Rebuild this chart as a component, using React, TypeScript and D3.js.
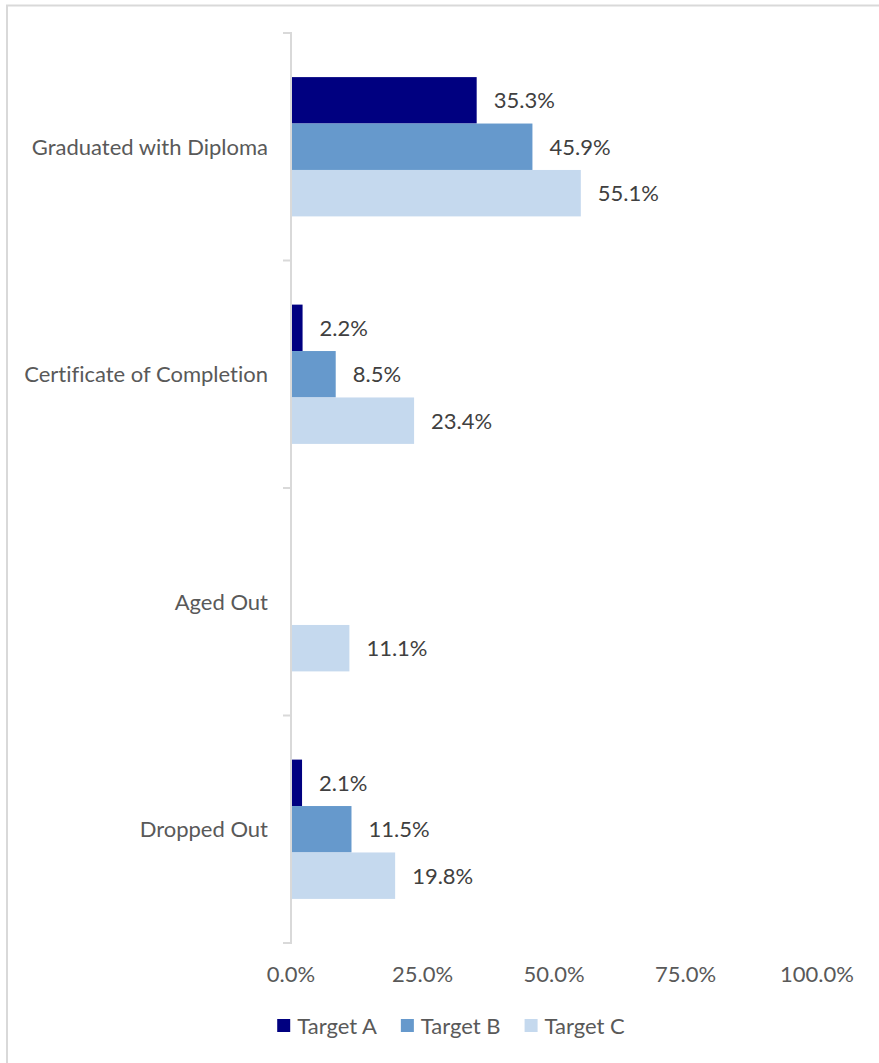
import { useEffect, useRef } from 'react'
import * as d3 from 'd3'

const CATEGORIES = ['Graduated with Diploma', 'Certificate of Completion', 'Aged Out', 'Dropped Out']
const SERIES = ['Target A', 'Target B', 'Target C']
const TARGET_A: (number | null)[] = [35.3, 2.2, null, 2.1]
const TARGET_B: (number | null)[] = [45.9, 8.5, null, 11.5]
const TARGET_C: (number | null)[] = [55.1, 23.4, 11.1, 19.8]
const X_TICKS = [0, 25, 50, 75, 100]
const COLORS = ['#000080', '#6699cc', '#c5d9ee']

const W = 879
const H = 1063
const FONT = 'Lato, "Open Sans", sans-serif'

export default function App() {
  const svgRef = useRef<SVGSVGElement>(null)

  useEffect(() => {
    if (!svgRef.current) return
    const svg = d3.select(svgRef.current)
    svg.selectAll('*').remove()

    // chart area frame (runs off the right and bottom of the picture)
    svg.append('rect').attr('x', 7).attr('y', 5.5).attr('width', 900).attr('height', 1100)
      .attr('fill', 'white').attr('stroke', '#d9d9d9').attr('stroke-width', 2)

    const left = 291, right = 817, top = 33, bottom = 943
    const x = d3.scaleLinear().domain([0, 100]).range([left, right])
    const y0 = d3.scaleBand<string>().domain(CATEGORIES).range([top, bottom])
    const y1 = d3.scaleBand<string>().domain(SERIES).range([0, y0.bandwidth()]).paddingOuter(0.95)

    const values = [TARGET_A, TARGET_B, TARGET_C]

    // bars + data labels
    CATEGORIES.forEach((cat, ci) => {
      SERIES.forEach((s, si) => {
        const v = values[si][ci]
        if (v == null) return
        const by = (y0(cat) ?? 0) + (y1(s) ?? 0)
        svg.append('rect').attr('x', x(0)).attr('y', by)
          .attr('width', x(v) - x(0)).attr('height', y1.bandwidth())
          .attr('fill', COLORS[si])
        svg.append('text').attr('x', x(v) + 17).attr('y', by + y1.bandwidth() / 2 + 8)
          .attr('font-family', FONT).attr('font-size', 22).attr('fill', '#404040')
          .text(`${v.toFixed(1)}%`)
      })
      // category label
      svg.append('text').attr('x', 268).attr('y', (y0(cat) ?? 0) + y0.bandwidth() / 2 + 8)
        .attr('text-anchor', 'end').attr('font-family', FONT).attr('font-size', 22)
        .style('font-variant-ligatures', 'none')
        .attr('fill', '#595959').text(cat)
    })

    // vertical category axis with ticks between groups
    svg.append('line').attr('x1', left).attr('x2', left).attr('y1', top - 1).attr('y2', bottom + 1)
      .attr('stroke', '#d9d9d9').attr('stroke-width', 2)
    const bounds = [...CATEGORIES.map((c) => y0(c) ?? 0), bottom]
    bounds.forEach((b) => {
      svg.append('line').attr('x1', left - 8).attr('x2', left).attr('y1', b).attr('y2', b)
        .attr('stroke', '#d9d9d9').attr('stroke-width', 2)
    })

    // value tick labels (no axis line in the original)
    X_TICKS.forEach((t) => {
      svg.append('text').attr('x', x(t)).attr('y', 982).attr('text-anchor', 'middle')
        .attr('font-family', FONT).attr('font-size', 22).attr('fill', '#595959')
        .text(`${t.toFixed(1)}%`)
    })

    // legend, centred on the chart area
    const leg = svg.append('g')
    let cx = 0
    SERIES.forEach((s, i) => {
      const item = leg.append('g').attr('transform', `translate(${cx},0)`)
      item.append('rect').attr('x', 0).attr('y', 1019).attr('width', 13).attr('height', 13).attr('fill', COLORS[i])
      const t = item.append('text').attr('x', 20).attr('y', 1034)
        .attr('font-family', FONT).attr('font-size', 22).attr('fill', '#595959').text(s)
      const tw = (t.node() as SVGTextElement).getComputedTextLength()
      cx += 20 + tw + 24
    })
    const legW = cx - 24
    leg.attr('transform', `translate(${451 - legW / 2},0)`)
  }, [])

  return (
    <svg ref={svgRef} width={W} height={H} style={{ position: 'absolute', left: 0, top: 0, background: 'white' }} />
  )
}
